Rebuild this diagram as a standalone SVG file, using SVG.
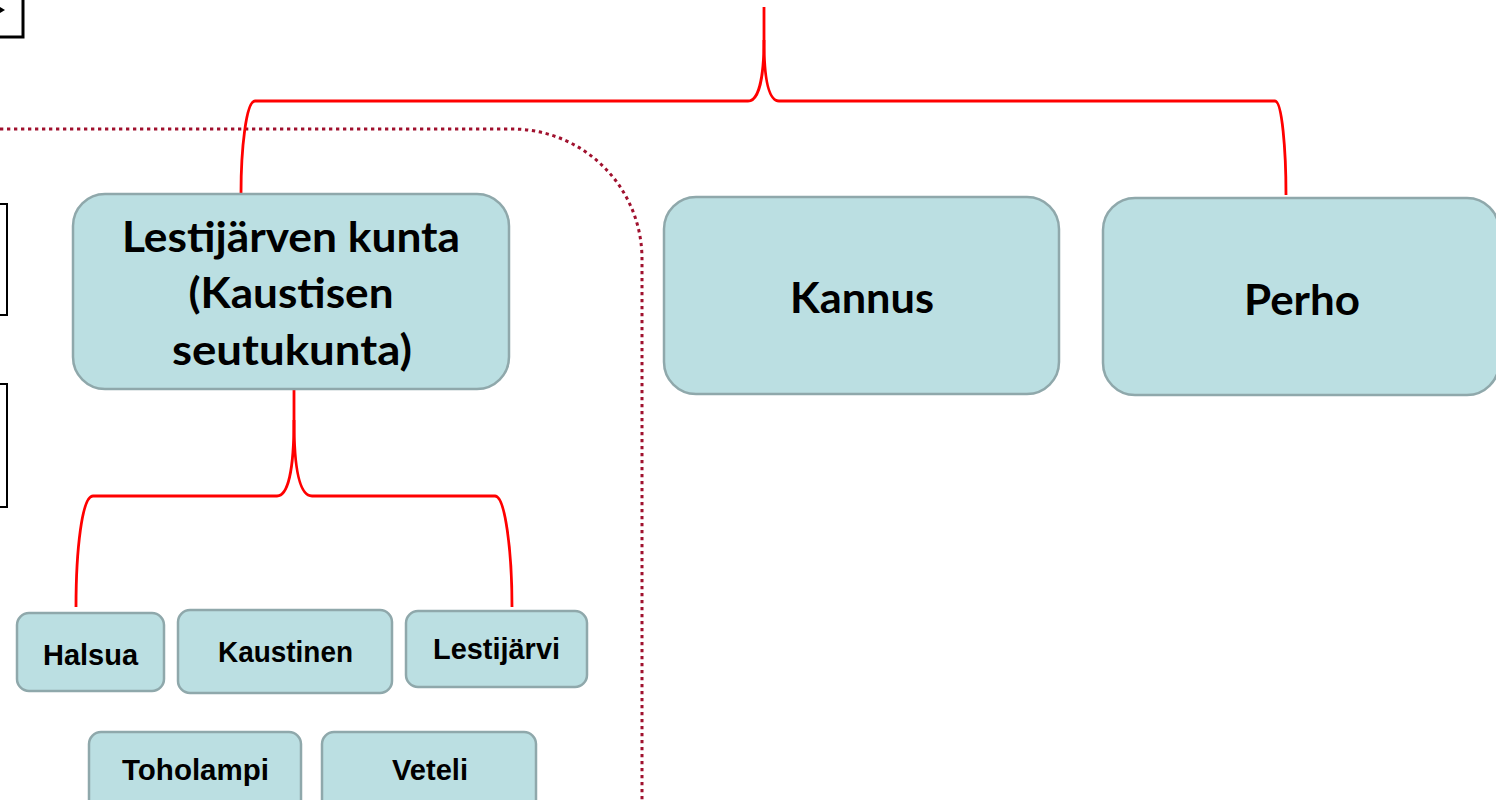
<svg xmlns="http://www.w3.org/2000/svg" width="1496" height="800" viewBox="0 0 1496 800">
<style>
.node{fill:#BBDFE2;stroke:#8FA8AB;stroke-width:2.5}
.big{font-family:Lato,"Open Sans","Liberation Sans",sans-serif;font-weight:bold;font-size:42px;fill:#000;text-anchor:middle}
.small{font-family:"Liberation Sans",Arial,sans-serif;font-weight:bold;font-size:29px;fill:#000;text-anchor:middle}
.conn{fill:none;stroke:#FF0000;stroke-width:2.8}
.frame{fill:none;stroke:#000;stroke-width:3}
</style>
<rect width="1496" height="800" fill="#fff"/>
<g id="frames">
<rect class="frame" x="-20" y="-10" width="43" height="47"/>
<polygon points="0,7 5,10 0,13" fill="#000"/>
<rect x="-20" y="204" width="27" height="111" fill="none" stroke="#000" stroke-width="2"/>
<rect x="-20" y="384" width="27" height="123" fill="none" stroke="#000" stroke-width="2"/>
</g>
<g id="group-boundary">
<path d="M0,129 H512 A130,130 0 0 1 642,259 V800" fill="none" stroke="#A0112E" stroke-width="3" stroke-dasharray="3.3 3.7"/>
</g>
<g id="connectors">
<path class="conn" d="M764,7 V40 C764,80 758,101 748,101 H255 C246,101 241,150 241,193"/>
<path class="conn" d="M764,40 C764,80 769,101 779,101 H1275 C1282,101 1286,150 1286,195"/>
<path class="conn" d="M294,390 V420 C294,470 288,496 277,496 H93 C82,496 76,550 76,607"/>
<path class="conn" d="M294,420 C294,470 300,496 312,496 H495 C505,496 512,550 512,607"/>
</g>
<g id="node-lestijarven">
<rect class="node" x="73" y="194" width="436" height="195" rx="32"/>
<text class="big" x="291" y="252" textLength="338" lengthAdjust="spacingAndGlyphs">Lestijärven kunta</text>
<text class="big" x="291" y="308" textLength="205" lengthAdjust="spacingAndGlyphs">(Kaustisen</text>
<text class="big" x="292" y="365" textLength="240" lengthAdjust="spacingAndGlyphs">seutukunta)</text>
</g>
<g id="node-kannus">
<rect class="node" x="664" y="197" width="395" height="197" rx="32"/>
<text class="big" x="862" y="313" textLength="144" lengthAdjust="spacingAndGlyphs">Kannus</text>
</g>
<g id="node-perho">
<rect class="node" x="1103" y="198" width="396" height="197" rx="32"/>
<text class="big" x="1302" y="315" textLength="116" lengthAdjust="spacingAndGlyphs">Perho</text>
</g>
<g id="node-halsua">
<rect class="node" x="17" y="613" width="147" height="78" rx="12"/>
<text class="small" x="90.5" y="665" textLength="95" lengthAdjust="spacingAndGlyphs">Halsua</text>
</g>
<g id="node-kaustinen">
<rect class="node" x="178" y="610" width="214" height="83" rx="12"/>
<text class="small" x="285.5" y="662" textLength="135" lengthAdjust="spacingAndGlyphs">Kaustinen</text>
</g>
<g id="node-lestijarvi">
<rect class="node" x="406" y="611" width="181" height="76" rx="12"/>
<text class="small" x="496.5" y="659" textLength="127" lengthAdjust="spacingAndGlyphs">Lestijärvi</text>
</g>
<g id="node-toholampi">
<rect class="node" x="89" y="732" width="212" height="80" rx="12"/>
<text class="small" x="195.5" y="780" textLength="147" lengthAdjust="spacingAndGlyphs">Toholampi</text>
</g>
<g id="node-veteli">
<rect class="node" x="322" y="732" width="214" height="80" rx="12"/>
<text class="small" x="430" y="780" textLength="76" lengthAdjust="spacingAndGlyphs">Veteli</text>
</g>
</svg>
